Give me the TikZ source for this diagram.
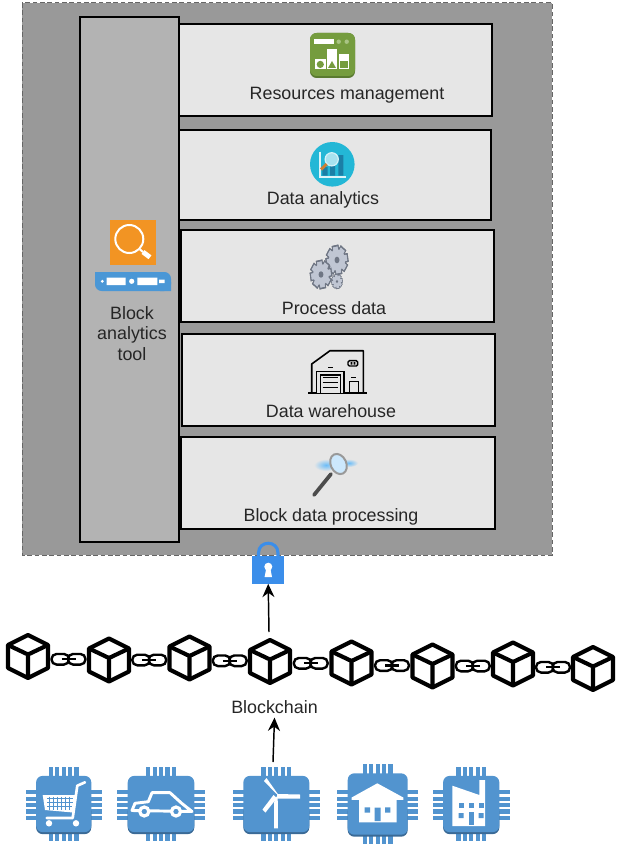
\documentclass[tikz,border=0pt]{standalone}
\usepackage{fontspec}
\setmainfont{Liberation Sans}
\usetikzlibrary{arrows.meta, calc, positioning}

\definecolor{panelgray}{HTML}{999999}
\definecolor{columngray}{HTML}{B3B3B3}
\definecolor{boxgray}{HTML}{E6E6E6}
\definecolor{chipblue}{HTML}{5294CF}
\definecolor{chipdark}{HTML}{3A6A96}
\definecolor{mgmtgreen}{HTML}{759C3E}
\definecolor{mgmtdark}{HTML}{5A7A30}
\definecolor{mgmtlight}{HTML}{A9C484}
\definecolor{tealdisc}{HTML}{23B7D6}
\definecolor{tealbar}{HTML}{1B7FA6}
\definecolor{searchorange}{HTML}{F29423}
\definecolor{barblue}{HTML}{4A97D6}
\definecolor{lockblue}{HTML}{3B8EEA}
\definecolor{gearbody}{HTML}{C0C6D3}
\definecolor{gearedge}{HTML}{6F7684}
\definecolor{glowblue}{HTML}{6CBDF8}

\tikzset{
  layerbox/.style={draw=black, fill=boxgray, line width=1.2pt, inner sep=0pt, outer sep=0pt},
  layertext/.style={font=\fontsize{13.4}{17}\selectfont, text=black!85, align=center, inner sep=0pt, anchor=base},
  blocksite/.style={inner sep=0pt, outer sep=0pt, minimum width=33.75pt, minimum height=35.25pt},
  chipbody/.style={fill=chipblue, rounded corners=5pt, inner sep=0pt, outer sep=0pt},
  flowarrow/.style={-{Stealth[length=10pt,width=9pt]}, line width=1.1pt},
  blockcube/.pic={
    \draw[fill=white, line width=3.1pt, line join=round]
      (0,-21.5) -- (20,-11.5) -- (20,11.5) -- (0,21.5) -- (-20,11.5) -- (-20,-11.5) -- cycle;
    \draw[line width=3.1pt, line join=round] (-20,-11.5) -- (0,-2) -- (20,-11.5) (0,-2) -- (0,21.5);
  },
  chainlink/.pic={
    \draw[fill=white, line width=1.8pt, rounded corners=3.8pt] (-17,-5.3) rectangle (0.5,5.3);
    \draw[fill=white, line width=1.8pt, rounded corners=3.8pt] (-0.5,-5.3) rectangle (17,5.3);
    \draw[line width=1.8pt] (-7,0) -- (7,0);
  }
}

% One chip with its pins
\newcommand{\iotchip}[5]{%
  \foreach \k in {-2,...,2} {
    \fill[chipblue] ({#2+\k*6.4-2.1},{#3-#5/2-9}) rectangle ({#2+\k*6.4+2.1},{#3+#5/2+7});
    \fill[chipblue] ({#2-#4/2-10.5},{#3+\k*6.4-2.1}) rectangle ({#2+#4/2+10.5},{#3+\k*6.4+2.1});
  }
  \fill[chipdark, rounded corners=5pt] ({#2-#4/2},{#3}) rectangle ({#2+#4/2},{#3+#5/2});
  \node[chipbody, minimum width=#4*0.75pt, minimum height={(#5-2)*0.75pt}] (#1) at (#2,{#3-1}) {};
}

% One gear wheel, taller than wide
\newcommand{\gearwheel}[3]{%
  \begin{scope}[shift={(#1,#2)}, yscale=1.32]
  \foreach \a in {0,45,...,315} {
    \fill[gearedge, rotate=\a+10] ({-#3*0.3},{-#3}) rectangle ({#3*0.3},{#3});
  }
  \fill[gearedge] (0,0) circle ({#3*0.84});
  \foreach \a in {0,45,...,315} {
    \fill[gearbody, rotate=\a+10] ({-#3*0.2},{-#3*0.88}) rectangle ({#3*0.2},{#3*0.88});
  }
  \fill[gearbody] (0,0) circle ({#3*0.72});
  \fill[gearedge] (0,0) circle ({#3*0.22});
  \end{scope}
}

\begin{document}
\begin{tikzpicture}[x=0.75pt, y=-0.75pt]
\useasboundingbox (0,0) rectangle (624,849);

% Panel
\draw[fill=panelgray, draw=black!60, dash pattern=on 3.5pt off 2pt, line width=0.75pt] (22,3) rectangle (552,555);
\draw[draw=black, fill=columngray, line width=1.2pt] (80,17) rectangle (179,542);

% Layers
\draw[layerbox] (179,24) rectangle (492,116);
\draw[layerbox] (179,130) rectangle (491,220);
\draw[layerbox] (181,230) rectangle (494,322);
\draw[layerbox] (182,334) rectangle (495,426);
\draw[layerbox] (181,437) rectangle (495,529);

\node[layertext] (resources) at (347,99) {Resources management};
\node[layertext] (analytics) at (323,204) {Data analytics};
\node[layertext] (process) at (334,314) {Process data};
\node[layertext] (warehouse) at (331,417) {Data warehouse};
\node[layertext] (processing) at (331,521) {Block data processing};
\node[layertext, anchor=center, font=\fontsize{13.4}{15.6}\selectfont] (tool) at (132,333.5) {Block\\analytics\\tool};

% Green icon
\fill[mgmtdark, rounded corners=5pt] (310,33) rectangle (355,78);
\fill[mgmtgreen, rounded corners=5pt] (310,33) rectangle (355,76);
\fill[white] (314.3,39.3) rectangle (334.3,44);
\fill[mgmtlight] (338.7,41.7) circle (2.2) (346.7,41.7) circle (2.2);
\fill[white] (315,59.3) rectangle (325.7,69.5);
\fill[white] (326.7,49) rectangle (337.3,69.5);
\fill[white] (338.7,54.3) rectangle (349.3,69.5);
\fill[mgmtgreen] (320.3,64.4) circle (3.6);
\fill[mgmtgreen] (328,68) -- (332,61) -- (336,68) -- cycle;
\fill[mgmtgreen] (340,61.3) rectangle (348,67.8);

% Teal icon
\fill[tealdisc] (332.3,164.3) circle (22.3);
\fill[tealbar] (322.3,167) rectangle (327.7,175.5) (330,163) rectangle (335,175.5) (338.3,155) rectangle (343.3,175.5);
\draw[white!85!tealdisc, line width=0.8pt] (320,151.7) -- (320,177) -- (346,177);
\draw[fill=tealdisc!40, draw=white!80!tealdisc, line width=0.9pt] (331.7,159.3) circle (6.6);
\draw[brown!80!orange, line width=2.2pt] (326.7,164) -- (321,169.5);

% Gears
\gearwheel{337}{260}{11.3}
\gearwheel{321}{274.5}{11}
\gearwheel{337}{281.5}{5.6}

% Warehouse
\draw[line width=1.2pt, line join=round] (311.7,393.3) -- (311.7,364) -- (330,350.7) -- (363.3,350.7) -- (363.3,393.3);
\draw[line width=1.3pt] (308,393.3) -- (366.7,393.3);
\draw[fill=boxgray, line width=1.1pt] (316.7,393.3) -- (316.7,371.7) -- (344,371.7) -- (344,393.3);
\draw[line width=0.9pt] (320.7,393.3) -- (320.7,375) -- (340.7,375) -- (340.7,393.3);
\draw[line width=1.2pt] (322.7,377.5) -- (338.3,377.5) (322.7,382.5) -- (338.3,382.5) (322.7,387.5) -- (338.3,387.5);
\draw[line width=1.1pt] (328,367.3) -- (333,367.3) (351,377.7) -- (356,377.7);
\draw[line width=1.1pt] (349.3,393.3) -- (349.3,381.7) -- (358.3,381.7) -- (358.3,393.3);
\draw[line width=1.1pt, rounded corners=1pt] (348,360.7) rectangle (357.7,366);
\fill (350.5,362) rectangle (352.3,364.7) (353.5,362) rectangle (355.3,364.7);

% Magnifier
\shade[inner color=glowblue, outer color=boxgray] (326,465) ellipse [x radius=12, y radius=6];
\shade[inner color=glowblue, outer color=boxgray] (349,463) ellipse [x radius=9, y radius=4];
\draw[line width=2.8pt, black!70, line cap=round] (331,474) -- (314,495);
\draw[fill=glowblue!35, draw=black!40, line width=1.5pt, rotate around={25:(338.5,464)}] (338.5,464) ellipse [x radius=7.8, y radius=10.5];

% Block analytics tool icon
\fill[searchorange] (110,220) rectangle (156,265);
\draw[white, line width=1.5pt] (129.3,239) circle (14);
\draw[white, line width=1.5pt] (140,249.5) -- (143,252);
\draw[white, line width=3.6pt] (143,252) -- (150,257.3);
\fill[barblue, rounded corners=5pt] (95,272) rectangle (171,291);
\fill[barblue] (95,272) rectangle (105,280) (160,282) rectangle (171,291);
\fill[white] (102.3,281.3) circle (1.6) (131.7,281.3) circle (2.6);
\fill[white] (106.7,277.7) rectangle (125.7,285) (137.3,277.7) rectangle (157.3,285) (159,279.5) rectangle (164.7,283);

% Lock
\node[inner sep=0pt, outer sep=0pt, fill=lockblue, minimum width=24pt, minimum height=21pt] (lockbody) at (268.2,569.8) {};
\draw[lockblue, line width=2.3pt] (258.5,556) -- (258.5,553) .. controls (258.5,540) and (278,540) .. (278,553) -- (278,556);
\fill[white] (268.3,566.7) circle (4);
\fill[white] (266.3,568) -- (270.3,568) -- (272,577) -- (264.6,577) -- cycle;

% Blockchain
\foreach \n/\x/\y in {blockA/28/656.5, blockB/109/660, blockC/189.5/658, blockD/270/661.5, blockE/351.5/663, blockF/432.5/666, blockG/513/664, blockH/593/668.5} {
  \node[blocksite] (\n) at (\x,\y) {};
}
\foreach \a/\b in {blockA/blockB, blockB/blockC, blockC/blockD, blockD/blockE, blockE/blockF, blockF/blockG, blockG/blockH} {
  \pic at ($(\a)!0.5!(\b)+(0,1)$) {chainlink};
}
\foreach \n in {blockA,blockB,blockC,blockD,blockE,blockF,blockG,blockH} {
  \pic at (\n) {blockcube};
}
\node[font=\fontsize{13.4}{16}\selectfont, text=black!85, inner sep=0pt, outer sep=3pt] (chainlabel) at (274.5,707) {Blockchain};

% Chips
\iotchip{chipA}{63.7}{805}{55.3}{58.3}
\iotchip{chipB}{161}{805}{66.6}{58.3}
\iotchip{chipC}{276.3}{805}{66}{58.3}
\iotchip{chipD}{377.7}{805}{60}{63.4}
\iotchip{chipE}{471.2}{805}{56.3}{58.3}

% Cart
\draw[white, line width=2pt, line cap=round, line join=round] (85,782.3) -- (77.3,785.7) -- (72.7,818) -- (46.7,818);
\fill[white] (42.7,795) -- (75.5,795) -- (73,812.5) -- (45,810) -- cycle;
\draw[chipblue, line width=0.6pt] (47,798) -- (73,798) (47,802) -- (73,802) (47,806) -- (72,806);
\foreach \x in {49,53,...,69} { \draw[chipblue, line width=0.6pt] (\x,796.5) -- (\x,809.5); }
\fill[white] (49,823.3) circle (3.2) (76,823.3) circle (3.2);

% Car
\draw[white, line width=2.2pt, line join=round] (132,810.5) -- (135,803.3) -- (148.3,801.7) -- (152,792.7) -- (170,792.7) -- (181.7,803.3) -- (192,811.5) -- cycle;
\foreach \x in {144.3,176} { \draw[fill=chipblue, draw=white, line width=2.4pt] (\x,811.5) circle (4.5); }

% Turbine
\fill[white] (274.3,796) -- (277.7,796) -- (278,828.3) -- (274,828.3) -- cycle;
\fill[white] (276,793.5) -- (264,781) -- (266.5,778) -- (278.5,795) -- cycle;
\fill[white] (277,794) -- (300,794.5) -- (300,798.5) -- (277,798.5) -- cycle;
\fill[white] (273.5,795) -- (262.5,809.5) -- (265.5,812.5) -- (277,798) -- cycle;
\fill[chipblue] (276,796) circle (1.2);

% House
\fill[white] (377.3,783.3) -- (403.3,797.5) -- (403.3,799.8) -- (396.7,799.8) -- (396.7,822.3) -- (359,822.3) -- (359,799.8) -- (351.7,799.8) -- (351.7,797.5) -- cycle;
\fill[chipblue] (364.6,807.3) rectangle (370,812.7) (385,807.3) rectangle (390.4,812.7) (374.7,807.7) rectangle (380.7,821);

% Factory
\fill[white] (452.3,785.7) -- (479.3,795) -- (479.3,780) -- (485,780) -- (485,826) -- (452.3,826) -- cycle;
\foreach \x in {461,471.3,481} { \fill[chipblue] ({\x-2.5},803.2) rectangle ({\x+2.5},808.2); }
\fill[chipblue] (458.5,813.2) rectangle (463.5,818.2) (478.5,813.2) rectangle (483.5,818.2);
\fill[chipblue] (469,812) rectangle (473.6,825);

% Arrows
\coordinate (blocktop) at (269,632);
\coordinate (windtop) at (273,762);
\draw[flowarrow] (blocktop) -- (lockbody.south);
\draw[flowarrow] (windtop) -- (chainlabel.south);
\end{tikzpicture}
\end{document}
